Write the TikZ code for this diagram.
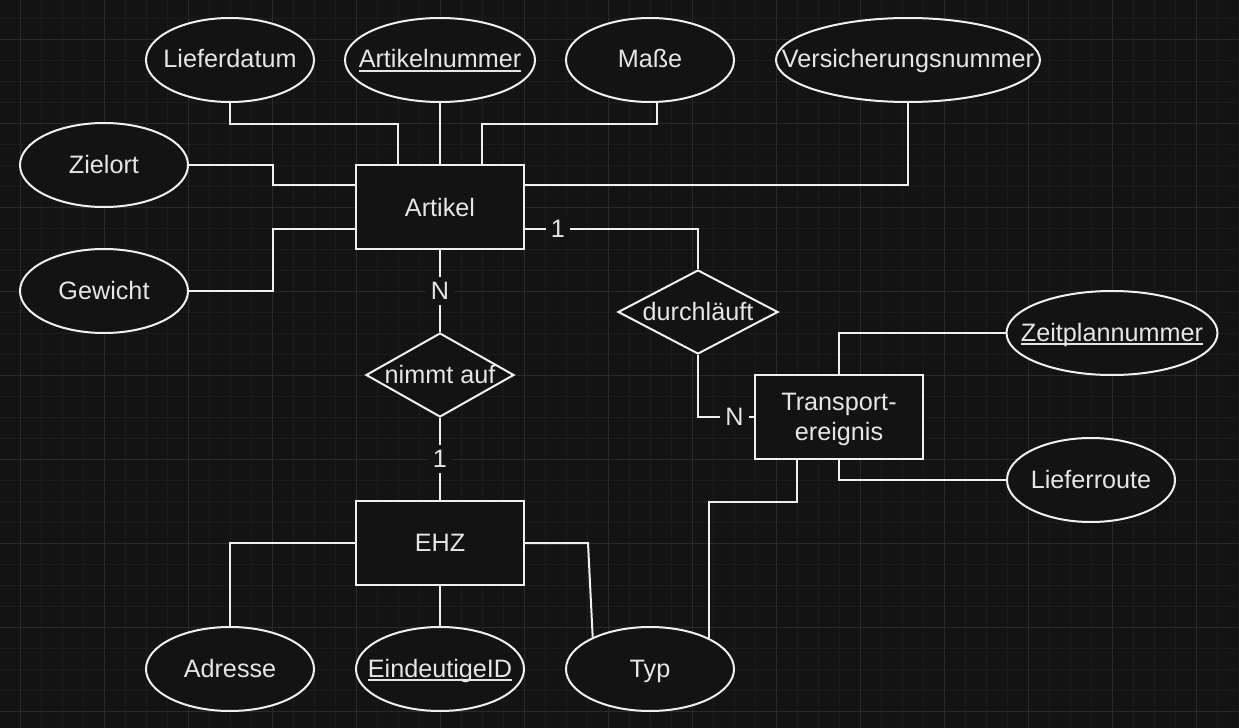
\documentclass[tikz,border=0pt]{standalone}
\usepackage{fontspec}
\usetikzlibrary{shapes.geometric,calc}
\newfontfamily\ersans{Liberation Sans}
\newcommand\erfont{\ersans\fontsize{12.6pt}{15pt}\selectfont}
\newcommand\ertext[1]{\makebox[0pt]{#1}}
\newcommand\erkey[1]{\makebox[0pt]{\setbox0=\hbox{#1}\rlap{\rule[-1.8pt]{\wd0}{0.8pt}}\box0}}
\definecolor{bg}{HTML}{131313}
\definecolor{gridmajor}{HTML}{2A2A2A}
\definecolor{gridminor}{HTML}{1C1C1C}
\definecolor{fg}{HTML}{F0F0F0}
\definecolor{txt}{HTML}{E6E6E6}
\tikzset{
    er/.cd,
    base/.style={draw=fg,fill=bg,line width=1pt,text=txt,font=\erfont,inner sep=0pt},
    entity/.style={er/base,minimum width=84pt,minimum height=42pt},
    attribute/.style={er/base,ellipse,minimum width=84pt,minimum height=42pt,text height=9.5pt,text depth=1.5pt},
    relation/.style={er/base,diamond,minimum width=74pt,minimum height=42pt,text height=9.5pt,text depth=1.5pt},
    link/.style={draw=fg,line width=1pt},
    card/.style={fill=bg,text=txt,font=\erfont,inner sep=2.5pt},
}

\begin{document}
\begin{tikzpicture}[x=0.5pt,y=-0.5pt]
      \useasboundingbox (0,0) rectangle (1239,728);
      \fill[bg] (0,0) rectangle (1239,728);
      % grid
      \foreach \x in {1,...,59} {
        \draw[gridminor,line width=0.5pt] ({-0.3+21*\x},0) -- ++(0,728);
      }
      \foreach \y in {0,...,33} {
        \draw[gridminor,line width=0.5pt] (0,{18+21*\y}) -- ++(1239,0);
      }
      \foreach \x in {0,...,14} {
        \draw[gridmajor,line width=0.5pt] ({20.7+84*\x},0) -- ++(0,728);
      }
      \foreach \y in {0,...,8} {
        \draw[gridmajor,line width=0.5pt] (0,{39+84*\y}) -- ++(1239,0);
      }

      \node[er/entity] (artikel) at (440,207) {Artikel};
      \node[er/entity] (ehz) at (440,543) {EHZ};
      \node[er/entity,align=center,text depth=0pt] (transport) at (839,417) {Transport-\\ereignis};

      \node[er/attribute] (lieferdatum) at (230,60) {\ertext{Lieferdatum}};
      \node[er/attribute,minimum width=95pt] (artikelnr) at (440,60) {\erkey{Artikelnummer}};
      \node[er/attribute] (masse) at (650,60) {\ertext{Maße}};
      \node[er/attribute,minimum width=132pt] (versnr) at (908,60) {\ertext{Versicherungsnummer}};
      \node[er/attribute] (zielort) at (104,165) {\ertext{Zielort}};
      \node[er/attribute] (gewicht) at (104,291) {\ertext{Gewicht}};
      \node[er/attribute,minimum width=105.5pt] (zeitplannr) at (1112,333) {\erkey{Zeitplannummer}};
      \node[er/attribute] (lieferroute) at (1091,480) {\ertext{Lieferroute}};
      \node[er/attribute] (adresse) at (230,669) {\ertext{Adresse}};
      \node[er/attribute] (eindeutig) at (440,669) {\erkey{EindeutigeID}};
      \node[er/attribute] (typ) at (650,669) {\ertext{Typ}};

      \node[er/relation] (nimmtauf) at (440,375) {\ertext{nimmt auf}};
      \node[er/relation,minimum width=80pt] (durchlaeuft) at (698,312) {\ertext{durchläuft}};

      \draw[er/link] (lieferdatum.south) -- ++(0,21) -| ($(artikel.north)+(-42,0)$);
      \draw[er/link] (artikelnr.south) -- (artikel.north);
      \draw[er/link] ($(masse.south)+(7,0)$) -- ++(0,21) -| ($(artikel.north)+(42,0)$);
      \draw[er/link] (versnr.south) |- ($(artikel.north east)+(0,21)$);
      \draw[er/link] (zielort.east) -- ++(84,0) |- ($(artikel.north west)+(0,21)$);
      \draw[er/link] (gewicht.east) -- ++(84,0) |- ($(artikel.south west)+(0,-21)$);

      \draw[er/link] ($(artikel.south east)+(0,-21)$) -| node[er/card,pos=0.095] {1} (durchlaeuft.north);
      \draw[er/link] (durchlaeuft.south) |- node[er/card,pos=0.825] {N} (transport.west);
      \draw[er/link] (artikel.south) -- node[er/card] {N} (nimmtauf.north);
      \draw[er/link] (nimmtauf.south) -- node[er/card] {1} (ehz.north);

      \draw[er/link] (ehz.west) -| (adresse.north);
      \draw[er/link] (ehz.south) -- (eindeutig.north);
      \draw[er/link] (ehz.east) -- ++(63,0) -- (typ.151);
      \draw[er/link] ($(transport.south)+(-42,0)$) -- ++(0,42) -| (typ.28);
      \draw[er/link] (transport.north) |- (zeitplannr.west);
      \draw[er/link] (transport.south) |- (lieferroute.west);
    \end{tikzpicture}
\end{document}
